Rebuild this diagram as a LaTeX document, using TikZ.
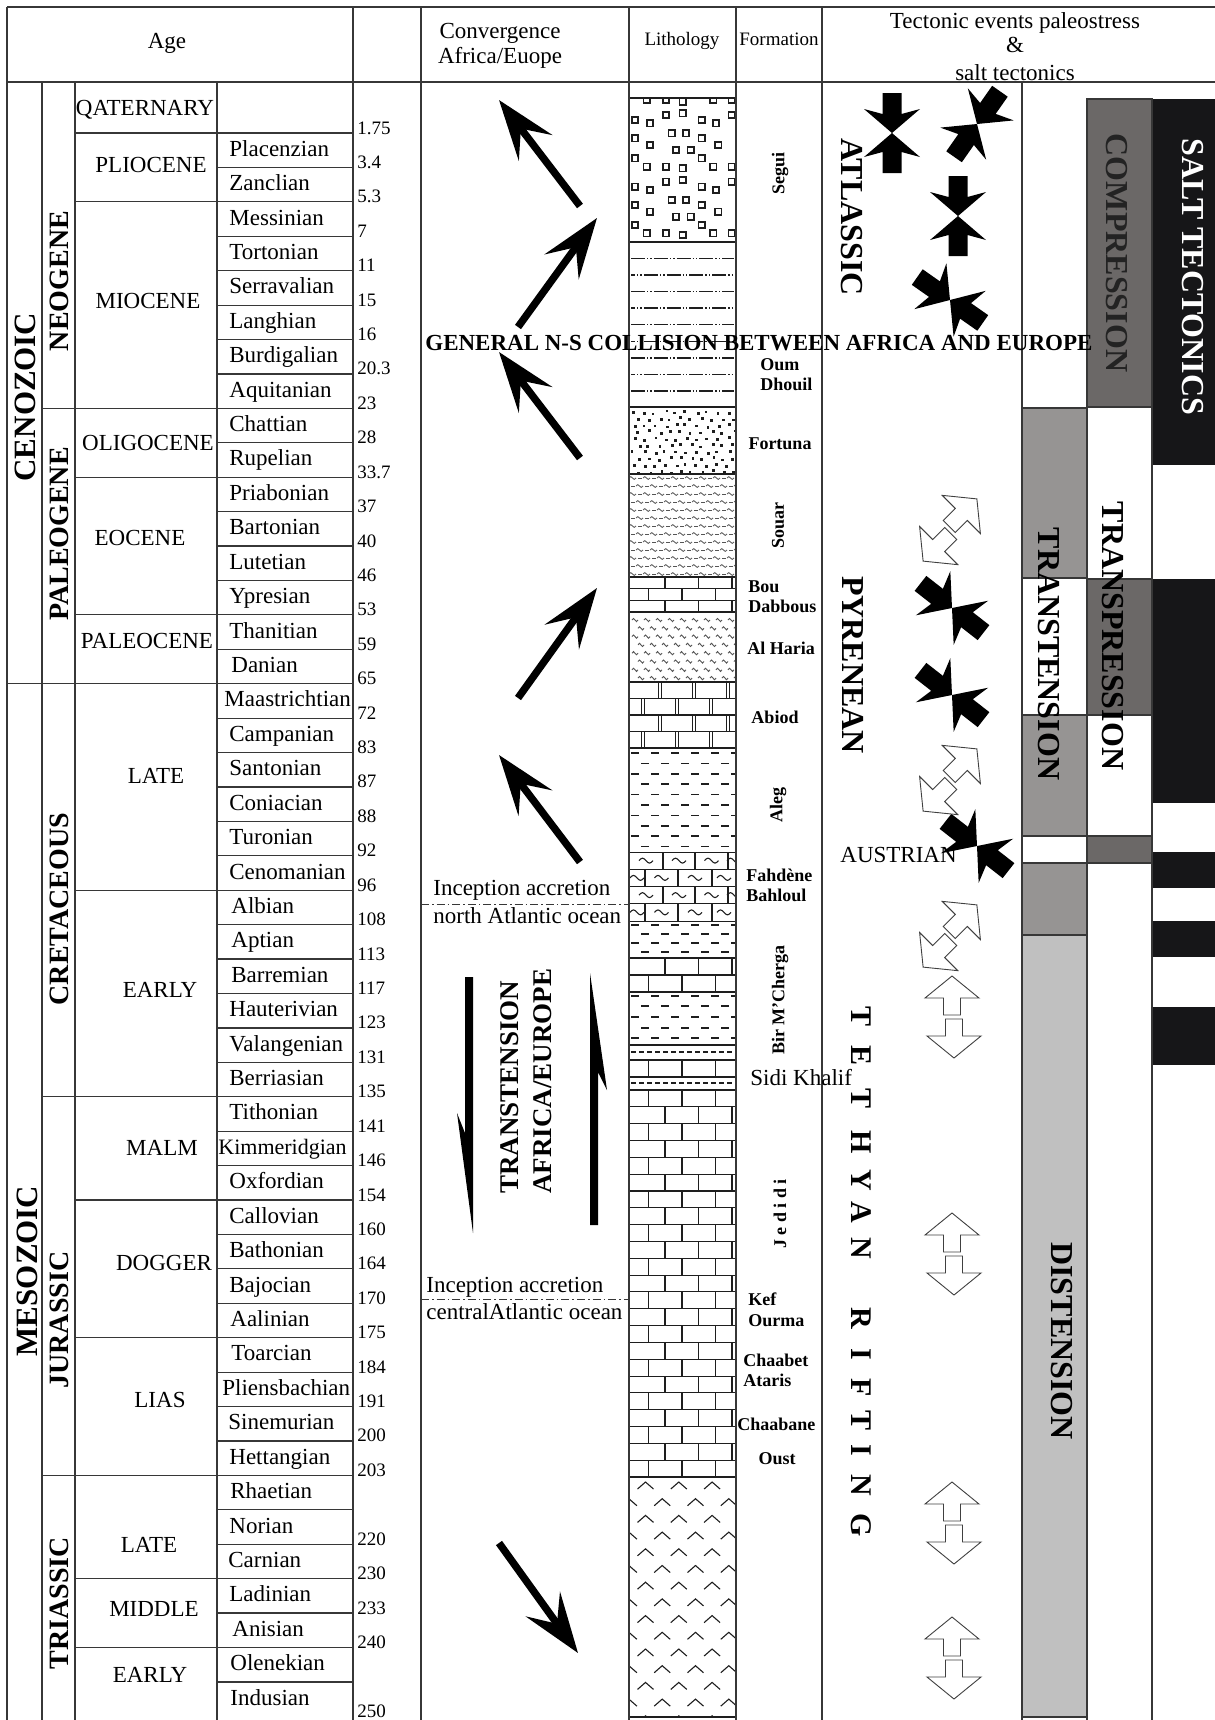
\documentclass[tikz,border=0pt]{standalone}
\usepackage{fontspec}
\setmainfont{Liberation Serif}
\usetikzlibrary{arrows.meta}
\definecolor{lineC}{RGB}{55,55,55}
\definecolor{midgray}{RGB}{150,148,147}
\definecolor{dkgray}{RGB}{107,104,103}
\definecolor{ltgray}{RGB}{192,192,192}
\definecolor{blackbar}{RGB}{22,22,24}
\definecolor{patC}{RGB}{30,30,30}
\definecolor{softC}{RGB}{85,85,85}
\definecolor{compText}{RGB}{35,35,35}
\tikzset{
  gridline/.style={draw=lineC, line width=0.6pt},
  stage/.style={font=\fontsize{11.5}{12}\selectfont, inner sep=0pt, anchor=base west},
  agenum/.style={font=\fontsize{9.5}{10}\selectfont, inner sep=0pt, anchor=base west},
  epoch/.style={font=\fontsize{11.5}{12}\selectfont, inner sep=0pt, anchor=base},
  era/.style={font=\fontsize{15.5}{16}\selectfont\bfseries, rotate=90, inner sep=0pt},
  period/.style={font=\fontsize{14}{14}\selectfont\bfseries, rotate=90, inner sep=0pt},
  hdr/.style={font=\fontsize{11.5}{12}\selectfont, inner sep=0pt, anchor=base},
  hdrs/.style={font=\fontsize{9.5}{10}\selectfont, inner sep=0pt, anchor=base},
  fmn/.style={font=\fontsize{9}{10}\selectfont\bfseries, inner sep=0pt, anchor=base west},
  fmnc/.style={font=\fontsize{9}{10}\selectfont\bfseries, inner sep=0pt, anchor=base},
  fmnr/.style={font=\fontsize{9}{10}\selectfont\bfseries, inner sep=0pt, rotate=90},
  bigr/.style={font=\fontsize{16}{16}\selectfont\bfseries, inner sep=0pt, rotate=-90},
  letr/.style={font=\fontsize{15}{15}\selectfont\bfseries, inner sep=0pt, rotate=-90},
  plaintxt/.style={font=\fontsize{11.5}{12}\selectfont, inner sep=0pt, anchor=base west},
  convarrow/.style={line width=3.7pt, -{Stealth[length=30pt,width=21pt,inset=12pt]}},
  lith/.style={draw=patC, line width=0.55pt},
  comp/.pic={
    \fill[black] (-40,-9.5) -- (-19,-9.5) -- (-24,-28) -- (0,0) -- (-24,28) -- (-19,9.5) -- (-40,9.5) -- cycle;
    \fill[black] (40,-9.5) -- (19,-9.5) -- (24,-28) -- (0,0) -- (24,28) -- (19,9.5) -- (40,9.5) -- cycle;
  },
  extv/.pic={
    \filldraw[fill=white, draw=black!75, line width=0.45pt] (2,-9.5) -- (19,-9.5) -- (19,-28) -- (41,-1) -- (19,26) -- (19,7.5) -- (2,7.5) -- cycle;
    \filldraw[fill=white, draw=black!75, line width=0.45pt] (-2,-7.5) -- (-19,-7.5) -- (-19,-26) -- (-41,1) -- (-19,28) -- (-19,9.5) -- (-2,9.5) -- cycle;
  },
  extd/.pic={
    \filldraw[fill=white, draw=black!75, line width=0.45pt] (2,-11.5) -- (19,-11.5) -- (19,-30) -- (41,-3) -- (19,24) -- (19,5.5) -- (2,5.5) -- cycle;
    \filldraw[fill=white, draw=black!75, line width=0.45pt] (-2,-5.5) -- (-19,-5.5) -- (-19,-24) -- (-41,3) -- (-19,30) -- (-19,11.5) -- (-2,11.5) -- cycle;
  },
}
\newcommand{\brickset}[4]{%
  \foreach \brow in {1,...,#3}{%
    \pgfmathsetmacro\bya{#1+(\brow-1)*#2}%
    \pgfmathsetmacro\byb{#1+\brow*#2}%
    \pgfmathtruncatemacro\bph{mod(\brow+#4,2)}%
    \draw[lith] (629,\bya) -- (736,\bya);%
    \ifnum\bph=0
      \foreach \bxx in {648.5,682,715.5} \draw[lith] (\bxx,\bya) -- (\bxx,\byb);%
    \else
      \foreach \bxx in {665,698.5,732} \draw[lith] (\bxx,\bya) -- (\bxx,\byb);%
    \fi
  }%
}
\newcommand{\dashrow}[2]{%
  \foreach \dm in {-1,...,5}{%
    \pgfmathsetmacro\dxx{631+#2+20*\dm}%
    \draw[lith, line width=0.75pt] (\dxx,#1) -- (\dxx+8,#1);%
  }%
}
\begin{document}
\begin{tikzpicture}[x=0.5pt,y=-0.5pt]
\useasboundingbox (0,0) rectangle (1215,1720);
\fill[white] (0,0) rectangle (1215,1720);

% ---------- right column fills ----------
\fill[dkgray] (1087,99) rectangle (1152,407);
\fill[blackbar] (1152,99) rectangle (1215,465);
\fill[midgray] (1022,408) rectangle (1087,578);
\fill[dkgray] (1087,579) rectangle (1152,715);
\fill[midgray] (1022,715) rectangle (1087,836);
\fill[dkgray] (1087,836) rectangle (1152,863);
\fill[midgray] (1022,863) rectangle (1087,935);
\fill[ltgray] (1022,935) rectangle (1087,1717);
\fill[blackbar] (1152,579) rectangle (1215,803);
\fill[blackbar] (1152,852) rectangle (1215,888);
\fill[blackbar] (1152,921) rectangle (1215,957);
\fill[blackbar] (1152,1007) rectangle (1215,1065);
\draw[gridline] (1087,99) rectangle (1152,407);
\draw[gridline] (1022,408) rectangle (1087,578);
\draw[gridline] (1087,579) rectangle (1152,715);
\draw[gridline] (1022,715) rectangle (1087,836);
\draw[gridline] (1022,836) rectangle (1152,863);
\draw[gridline] (1022,863) rectangle (1087,935);
\draw[gridline] (1022,935) rectangle (1087,1717);
\draw[gridline] (1087,99) -- (1087,1720);
\draw[gridline] (1152,99) -- (1152,1720);

% ---------- lithology ----------
% Segui
\begin{scope}
\clip (629,98) rectangle (736,242);
\foreach \kk in {0,1,2}{
 \foreach \sqx/\sqy in {646.7/100,666/100,682.7/101.7,713.3/100,731.7/100,666/115,682.7/113.3,731.7/115,635/120,650/123.3,701.7/120,716/123.3,671.7/133.3,686/133.3,635/138.3,701.7/138.3,650/145,718.3/145,676/150,690.7/150,635/158.3,701.7/158.3}{
   \pgfmathsetmacro\sqyy{\sqy+66.67*\kk}
   \draw[lith, line width=0.85pt] (\sqx-3.2,\sqyy-3.2) rectangle (\sqx+3.2,\sqyy+3.2);
 }
}
\end{scope}
% Oum Dhouil
\foreach \j in {0,2,4,6,8} \draw[lith, line width=0.7pt, dash pattern=on 7pt off 1pt on 0.7pt off 1pt on 0.7pt off 1pt] (631,{258.3+16.6*\j}) -- (734,{258.3+16.6*\j});
\foreach \j in {1,3,5,7} \draw[lith, line width=0.7pt, dash pattern=on 7pt off 1pt on 0.7pt off 1pt on 0.7pt off 1pt, dash phase=5pt] (631,{258.3+16.6*\j}) -- (734,{258.3+16.6*\j});
% Fortuna
\begin{scope}
\clip (629,407) rectangle (736,474);
\pgfmathsetseed{12}
\foreach \fr in {0,...,9}{
  \foreach \fc in {0,...,9}{
    \pgfmathsetmacro\fdx{632+10.5*\fc+mod(\fr,2)*5+rnd*4}
    \pgfmathsetmacro\fdy{411+6.6*\fr+rnd*3}
    \fill[patC] (\fdx-1.4,\fdy-1.4) rectangle (\fdx+1.4,\fdy+1.4);
  }
}
\end{scope}
% Souar
\begin{scope}
\clip (629,474) rectangle (736,577);
\foreach \j in {0,...,12}{
  \pgfmathsetmacro\wy{478+8*\j}
  \pgfmathsetmacro\woff{mod(\j,2)*7}
  \foreach \wm in {-1,...,7}{
    \pgfmathsetmacro\wx{629+\woff+14*\wm}
    \draw[softC, line width=0.4pt] (\wx,\wy) sin (\wx+1.75,\wy-1.4) cos (\wx+3.5,\wy) sin (\wx+5.25,\wy+1.4) cos (\wx+7,\wy);
    \draw[softC, line width=0.4pt] (\wx+9,\wy) -- (\wx+12.5,\wy);
  }
}
\end{scope}
% Bou Dabbous
\brickset{577}{11.7}{3}{0}
% Al Haria
\begin{scope}
\clip (629,612) rectangle (736,682);
\foreach \j in {0,...,7}{
  \pgfmathsetmacro\hy{620+8.3*\j}
  \pgfmathsetmacro\hoff{mod(\j,2)*6}
  \foreach \hm in {0,...,8}{
    \pgfmathsetmacro\hx{632+\hoff+12*\hm}
    \draw[softC, line width=0.45pt] (\hx,\hy) sin (\hx+1.5,\hy-1.6) cos (\hx+3,\hy) sin (\hx+4.5,\hy+1.6) cos (\hx+6,\hy);
  }
}
\end{scope}
% Abiod
\foreach \ar in {0,...,3}{
  \pgfmathsetmacro\aya{682+16.5*\ar}
  \pgfmathsetmacro\ayb{682+16.5*(\ar+1)}
  \draw[lith] (629,\aya) -- (736,\aya);
  \ifodd\ar
    \foreach \axx in {643,677,711} {\draw[lith] (\axx-1.4,\aya) -- (\axx-1.4,\ayb); \draw[lith] (\axx+1.4,\aya) -- (\axx+1.4,\ayb);}
  \else
    \foreach \axx in {660,694,728} {\draw[lith] (\axx-1.4,\aya) -- (\axx-1.4,\ayb); \draw[lith] (\axx+1.4,\aya) -- (\axx+1.4,\ayb);}
  \fi
}
% Aleg
\begin{scope}
\clip (629,748) rectangle (736,852);
\draw[lith] (629,748) -- (736,748);
\foreach \j in {0,...,9}{
  \pgfmathsetmacro\ly{753+10.4*\j}
  \pgfmathsetmacro\loff{mod(\j,2)*10}
  \dashrow{\ly}{\loff}
}
\end{scope}
% Fahdene / Bahloul
\begin{scope}
\clip (629,852) rectangle (736,921);
\foreach \fr in {0,...,3}{
  \pgfmathsetmacro\fya{852+17.25*\fr}
  \pgfmathsetmacro\fyb{852+17.25*(\fr+1)}
  \pgfmathsetmacro\fym{852+17.25*(\fr+0.5)}
  \draw[lith] (629,\fya) -- (736,\fya);
  \ifodd\fr
    \foreach \fxx in {645,678,712} \draw[lith] (\fxx,\fya) -- (\fxx,\fyb);
    \foreach \fcx in {637,661.5,695,724} \draw[lith] (\fcx-7,\fym) sin (\fcx-3.5,\fym-2.5) cos (\fcx,\fym) sin (\fcx+3.5,\fym+2.5) cos (\fcx+7,\fym);
  \else
    \foreach \fxx in {663,695,728} \draw[lith] (\fxx,\fya) -- (\fxx,\fyb);
    \foreach \fcx in {646,679,711.5,734} \draw[lith] (\fcx-7,\fym) sin (\fcx-3.5,\fym-2.5) cos (\fcx,\fym) sin (\fcx+3.5,\fym+2.5) cos (\fcx+7,\fym);
  \fi
}
\end{scope}
% Bir M'Cherga
\begin{scope}
\clip (629,921) rectangle (736,1090);
\draw[lith] (629,921) -- (736,921);
\dashrow{925}{0}\dashrow{934}{10}\dashrow{943}{0}\dashrow{952}{10}
\brickset{958}{17}{2}{0}
\draw[lith] (629,992) -- (736,992);
\dashrow{996}{0}\dashrow{1006}{10}\dashrow{1017}{0}\dashrow{1028}{10}\dashrow{1038}{0}
\draw[lith] (629,1045) -- (736,1045);
\draw[lith, dash pattern=on 2.5pt off 1.5pt] (631,1052) -- (734,1052);
\brickset{1060}{17}{1}{1}
\draw[lith] (629,1077) -- (736,1077);
\draw[lith, dash pattern=on 2.5pt off 1.5pt] (631,1083) -- (734,1083);
\end{scope}
% Jedidi ... Oust
\brickset{1090}{16.826}{23}{1}
\draw[lith] (629,1477) -- (736,1477);
% Triassic evaporites
\begin{scope}
\clip (629,1477) rectangle (736,1717);
\foreach \j in {0,...,14}{
  \pgfmathsetmacro\cy{1485+16.7*\j}
  \pgfmathsetmacro\coff{mod(\j,2)*16.7}
  \foreach \cm in {-1,...,3}{
    \pgfmathsetmacro\ccx{645.5+\coff+33.3*\cm}
    \draw[lith] (\ccx-8,\cy+4) -- (\ccx,\cy-3) -- (\ccx+8,\cy+4);
  }
}
\end{scope}
\draw[lith] (629,98) -- (736,98);
\draw[lith] (629,242) -- (736,242);
\draw[lith] (629,407) -- (736,407);
\draw[lith] (629,474) -- (736,474);
\draw[lith] (629,612) -- (736,612);
\draw[lith] (629,748) -- (736,748);
\draw[lith] (629,1717) -- (736,1717);

% ---------- grid ----------
\draw[gridline] (7,7) -- (1215,7);
\draw[gridline] (7,82) -- (1215,82);
\draw[gridline] (7,7) -- (7,1720);
\foreach \xx in {353,421,629,736,822} \draw[gridline] (\xx,7) -- (\xx,1720);
\foreach \xx in {42,75,217,1022} \draw[gridline] (\xx,82) -- (\xx,1720);
\foreach \i in {0,...,45} \draw[gridline] (217,{133+34.42*\i}) -- (353,{133+34.42*\i});
\foreach \i in {0,2,8,10,14,16,22,28,31,35,39,42,44} \draw[gridline] (75,{133+34.42*\i}) -- (217,{133+34.42*\i});
\foreach \i in {8,16,28,39} \draw[gridline] (42,{133+34.42*\i}) -- (75,{133+34.42*\i});
\draw[gridline] (7,{133+34.42*16}) -- (42,{133+34.42*16});

% ---------- header ----------
\node[hdr] (hAge) at (167,48) {Age};
\node[hdr] (hConv1) at (500,38) {Convergence};
\node[hdr] (hConv2) at (500,63) {Africa/Euope};
\node[hdrs] (hLith) at (682,45) {Lithology};
\node[hdrs] (hForm) at (779,45) {Formation};
\node[hdr] (hTec1) at (1015,28) {Tectonic events paleostress};
\node[hdr] (hTec2) at (1015,52) {\&};
\node[hdr] (hTec3) at (1015,80) {salt tectonics};

% ---------- age columns ----------
\node[era] (eCen) at (25,397) {CENOZOIC};
\node[era] (eMes) at (27,1271) {MESOZOIC};
\node[period] (pNeo) at (59,281) {NEOGENE};
\node[period] (pPal) at (59,534) {PALEOGENE};
\node[period] (pCre) at (59,909) {CRETACEOUS};
\node[period] (pJur) at (59,1320) {JURASSIC};
\node[period] (pTri) at (59,1603) {TRIASSIC};

\node[epoch] (ep1) at (145,115) {QATERNARY};
\node[epoch] (ep2) at (151,172) {PLIOCENE};
\node[epoch] (ep3) at (148,308) {MIOCENE};
\node[epoch] (ep4) at (148,450) {OLIGOCENE};
\node[epoch] (ep5) at (140,545) {EOCENE};
\node[epoch] (ep6) at (147,648) {PALEOCENE};
\node[epoch] (ep7) at (156,783) {LATE};
\node[epoch] (ep8) at (160,997) {EARLY};
\node[epoch] (ep9) at (162,1155) {MALM};
\node[epoch] (ep10) at (164,1270) {DOGGER};
\node[epoch] (ep11) at (160,1407) {LIAS};
\node[epoch] (ep12) at (149,1552) {LATE};
\node[epoch] (ep13) at (154,1616) {MIDDLE};
\node[epoch] (ep14) at (150,1682) {EARLY};

\foreach \nm/\sx [count=\k from 0] in {Placenzian/229,Zanclian/229,Messinian/229,Tortonian/229,Serravalian/229,Langhian/229,Burdigalian/229,Aquitanian/229,Chattian/229,Rupelian/229,Priabonian/229,Bartonian/229,Lutetian/229,Ypresian/229,Thanitian/229,Danian/231,Maastrichtian/224,Campanian/229,Santonian/229,Coniacian/229,Turonian/229,Cenomanian/229,Albian/231,Aptian/231,Barremian/231,Hauterivian/229,Valangenian/229,Berriasian/229,Tithonian/229,{\fontsize{11}{12}\selectfont Kimmeridgian}/218,Oxfordian/229,Callovian/229,Bathonian/229,Bajocian/229,Aalinian/230,Toarcian/231,Pliensbachian/222,Sinemurian/228,Hettangian/229,Rhaetian/230,Norian/229,Carnian/228,Ladinian/229,Anisian/232,Olenekian/230,Indusian/230}{
  \node[stage] (st\k) at (\sx,{133+34.42*(\k+0.5)+6}) {\nm};
}
\foreach \i/\v in {0/1.75,1/3.4,2/5.3,3/7,4/11,5/15,6/16,7/20.3,8/23,9/28,10/33.7,11/37,12/40,13/46,14/53,15/59,16/65,17/72,18/83,19/87,20/88,21/92,22/96,23/108,24/113,25/117,26/123,27/131,28/135,29/141,30/146,31/154,32/160,33/164,34/170,35/175,36/184,37/191,38/200,39/203,41/220,42/230,43/233,44/240,46/250}{
  \node[agenum] (n\i) at (357,{133+34.42*\i+1}) {\v};
}

% ---------- convergence column ----------
\coordinate (a1t) at (580,206); \coordinate (a1h) at (499,100);
\coordinate (a2t) at (518,327); \coordinate (a2h) at (597,218);
\coordinate (a3t) at (580,458); \coordinate (a3h) at (499,352);
\coordinate (a4t) at (518,698); \coordinate (a4h) at (597,588);
\coordinate (a5t) at (580,862); \coordinate (a5h) at (499,755);
\coordinate (a6t) at (499,1543); \coordinate (a6h) at (578,1653);
\draw[convarrow] (a1t) -- (a1h);
\draw[convarrow] (a2t) -- (a2h);
\draw[convarrow] (a3t) -- (a3h);
\draw[convarrow] (a4t) -- (a4h);
\draw[convarrow] (a5t) -- (a5h);
\draw[convarrow] (a6t) -- (a6h);

\fill[black] (465,977) -- (473,977) -- (473,1233) -- (457,1113) -- (465,1133) -- cycle;
\fill[black] (590,973) -- (607,1090) -- (598,1072) -- (598,1225) -- (590,1225) -- cycle;
\node[font=\fontsize{13.5}{14}\selectfont\bfseries, rotate=90, inner sep=0pt] (tr1) at (510,1087) {TRANSTENSION};
\node[font=\fontsize{13.5}{14}\selectfont\bfseries, rotate=90, inner sep=0pt] (tr2) at (543,1081) {AFRICA/EUROPE};

\draw[lineC, line width=0.5pt, dash pattern=on 4pt off 1.5pt on 0.8pt off 1.5pt] (421,904) -- (629,904);
\draw[lineC, line width=0.5pt, dash pattern=on 4pt off 1.5pt on 0.8pt off 1.5pt] (421,1299) -- (629,1299);
\node[plaintxt] (inc1) at (433,895) {Inception accretion};
\node[plaintxt] (inc2) at (433,923) {north Atlantic ocean};
\node[plaintxt] (inc3) at (426,1292) {Inception accretion};
\node[plaintxt] (inc4) at (426,1319) {centralAtlantic ocean};

% ---------- formations ----------
\node[fmnr] (fSegui) at (780,173) {Segui};
\node[fmn] (fOum1) at (760,370) {Oum};
\node[fmn] (fOum2) at (760,390) {Dhouil};
\node[fmnc] (fFort) at (780,449) {Fortuna};
\node[fmnr] (fSouar) at (778,525) {Souar};
\node[fmn] (fBou1) at (748,592) {Bou};
\node[fmn] (fBou2) at (748,612) {Dabbous};
\node[fmnc] (fAlH) at (781,654) {Al Haria};
\node[fmnc] (fAbiod) at (775,723) {Abiod};
\node[fmnr] (fAleg) at (778,805) {Aleg};
\node[fmn] (fFah) at (746,881) {Fahdène};
\node[fmn] (fBah) at (746,901) {Bahloul};
\node[fmnr] (fBir) at (780,1000) {Bir M’Cherga};
\node[plaintxt] (fSidi) at (750,1085) {Sidi Khalif};
\node[fmnr] (fJed) at (780,1214) {J e d i d i};
\node[fmn] (fKef1) at (748,1305) {Kef};
\node[fmn] (fKef2) at (748,1326) {Ourma};
\node[fmn] (fCha1) at (743,1366) {Chaabet};
\node[fmn] (fCha2) at (743,1386) {Ataris};
\node[fmn] (fChb) at (737,1430) {Chaabane};
\node[fmnc] (fOust) at (777,1464) {Oust};

% ---------- tectonic events ----------
\node[bigr] (tAtl) at (852,217) {ATLASSIC};
\node[bigr] (tPyr) at (853,665) {PYRENEAN};
\foreach \lt/\ly [count=\q] in {T/1016,E/1055,T/1098,H/1142,Y/1180,A/1212,N/1248,R/1318,I/1354,F/1388,T/1420,I/1450,N/1485,G/1525}{
  \node[letr] (teth\q) at (861,\ly) {\lt};
}
\node[plaintxt] (tAus) at (840,862) {AUSTRIAN};

\pic[rotate=90] at (892,133) {comp};
\pic[rotate=55] at (977,124) {comp};
\pic[rotate=90] at (958,216) {comp};
\pic[rotate=-35] at (950,300) {comp};
\pic[rotate=-38] at (952,608) {comp};
\pic[rotate=-38] at (952,695) {comp};
\pic[rotate=-38] at (977,846) {comp};
\pic[rotate=45] at (950,530) {extd};
\pic[rotate=45] at (950,780) {extd};
\pic[rotate=45] at (950,936) {extd};
\pic[rotate=90] at (953,1017) {extv};
\pic[rotate=90] at (953,1254) {extv};
\pic[rotate=90] at (953,1523) {extv};
\pic[rotate=90] at (953,1658) {extv};

% ---------- right column texts ----------
\node[bigr] (rTrt) at (1049,654) {TRANSTENSION};
\node[bigr] (rDis) at (1062,1341) {DISTENSION};
\node[bigr, text=compText] (rCom) at (1117,253) {COMPRESSION};
\node[bigr] (rTrp) at (1113,636) {TRANSPRESSION};
\node[bigr, text=white] (rSalt) at (1193,277) {SALT TECTONICS};

% ---------- overlay title ----------
\node[font=\fontsize{11.5}{12}\selectfont\bfseries, inner sep=0pt, anchor=base west] (gen) at (425,350) {GENERAL N-S COLLISION BETWEEN AFRICA AND EUROPE};
\end{tikzpicture}
\end{document}
